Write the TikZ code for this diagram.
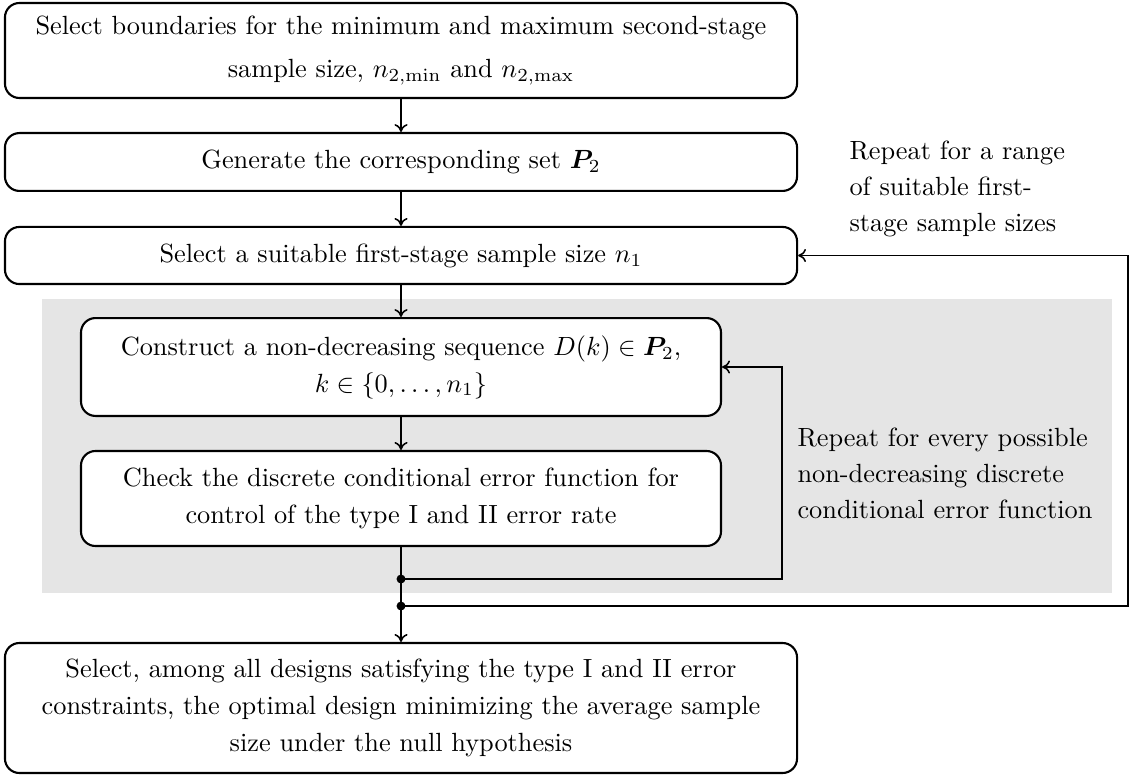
\documentclass[tikz,border=0pt]{standalone}
\usepackage{bm}
\usetikzlibrary{arrows.meta}

\tikzset{
  stepbox/.style={draw, line width=0.8pt, rounded corners=5.5pt, fill=white,
    align=center, inner sep=0pt, font=\fontsize{10}{14}\selectfont},
  widebox/.style={stepbox, minimum width=301pt},
  narrowbox/.style={stepbox, minimum width=243.2pt},
  flow/.style={line width=0.6pt, -{To[length=3pt,width=5pt]}},
  note/.style={align=left, anchor=west, inner sep=0pt, font=\fontsize{10}{13.8}\selectfont},
  junction/.style={circle, fill, inner sep=0pt, minimum size=3.4pt}
}

\begin{document}
\begin{tikzpicture}[x=0.38pt, y=-0.38pt]
  \useasboundingbox (0,0) rectangle (1129,776);

  % shaded region of the inner loop
  \fill[black!10] (42,299) rectangle (1112,593);

  % process steps
  \node[widebox, minimum height=36.1pt, font=\fontsize{10}{16.7}\selectfont] (b1) at (401,50.5)
    {Select boundaries for the minimum and maximum second-stage\\sample size, $n_{2,\min}$ and $n_{2,\max}$};
  \node[widebox, minimum height=22pt] (b2) at (401,162)
    {Generate the corresponding set $\bm{P}_2$};
  \node[widebox, minimum height=21.7pt] (b3) at (401,255.5)
    {Select a suitable first-stage sample size $n_1$};
  \node[narrowbox, minimum height=37.2pt] (b4) at (401,367)
    {Construct a non-decreasing sequence $D(k)\in\bm{P}_2$,\\$k\in\{0,\dots,n_1\}$};
  \node[narrowbox, minimum height=36.1pt] (b5) at (401,498.5)
    {Check the discrete conditional error function for\\control of the type I and II error rate};
  \node[widebox, minimum height=49.4pt] (b6) at (401,708)
    {Select, among all designs satisfying the type I and II error\\constraints, the optimal design minimizing the average sample\\size under the null hypothesis};

  % loop annotations
  \node[note] (r1) at (849,189)
    {Repeat for a range\\of suitable first-\\stage sample sizes};
  \node[note] (r2) at (797,473.5)
    {Repeat for every possible\\non-decreasing discrete\\conditional error function};

  % junctions and loop corners
  \node[junction] (d1) at (401,579) {};
  \node[junction] (d2) at (401,606) {};
  \coordinate (c1) at (782,579);
  \coordinate (c2) at (1128,606);

  % main flow
  \draw[flow] (b1) -- (b2);
  \draw[flow] (b2) -- (b3);
  \draw[flow] (b3) -- (b4);
  \draw[flow] (b4) -- (b5);
  \draw[flow] (b5) -- (b6);

  % loops back
  \draw[flow] (d1.center) -- (c1) |- (b4.east);
  \draw[flow] (d2.center) -- (c2) |- (b3.east);
\end{tikzpicture}
\end{document}
